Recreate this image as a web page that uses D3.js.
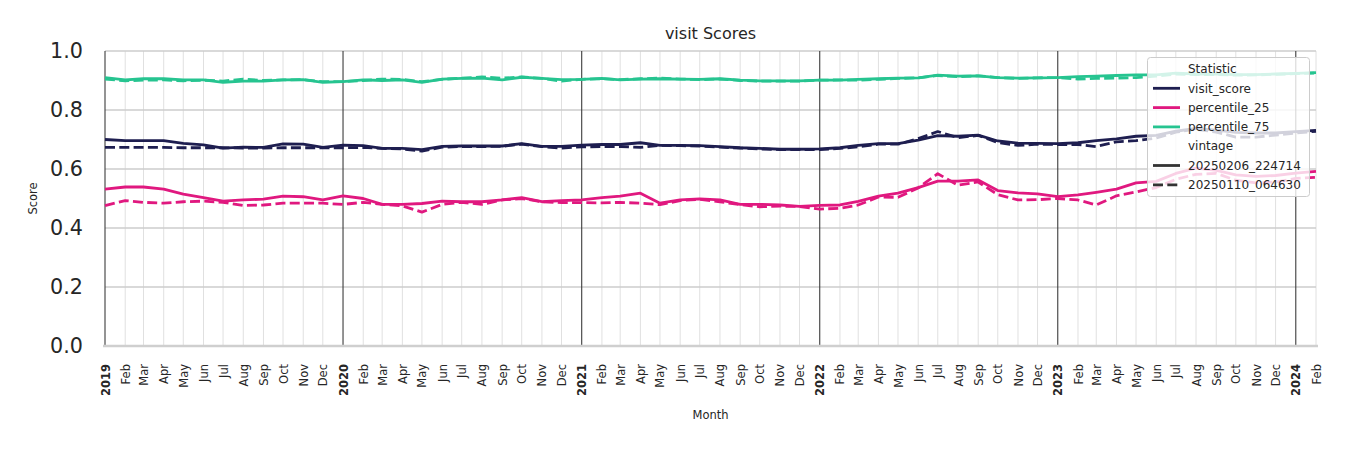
<!DOCTYPE html>
<html><head><meta charset="utf-8">
<script src="https://cdn.jsdelivr.net/npm/d3@7"></script>
<style>body{margin:0;background:#fff;} svg{display:block;font-family:"DejaVu Sans",sans-serif;}</style>
</head><body><svg id="chart" width="1350" height="450"></svg>
<script>
// ---- data ----
const firstMonth = "2019-01-01";
const lastMonth = "2024-02-01";
const statistics = ["visit_score", "percentile_25", "percentile_75"];
const vintages = ["20250206_224714", "20250110_064630"];
const monthTickLabels = ["Jan","Feb","Mar","Apr","May","Jun","Jul","Aug","Sep","Oct","Nov","Dec"];
const yTickValues = [0.0, 0.2, 0.4, 0.6, 0.8, 1.0];

// vintage 20250206_224714 (solid)
const visitScoreNew = [
  0.700,0.696,0.696,0.696,0.687,0.682,0.671,0.674,0.673,0.685,0.684,0.673,
  0.681,0.679,0.670,0.670,0.666,0.677,0.678,0.678,0.678,0.686,0.677,0.677,
  0.681,0.683,0.683,0.689,0.680,0.680,0.679,0.676,0.672,0.670,0.667,0.667,
  0.668,0.672,0.680,0.686,0.686,0.698,0.713,0.711,0.715,0.695,0.688,0.687,
  0.686,0.689,0.696,0.702,0.711,0.714,0.728,0.738,0.732,0.724,0.722,0.722,
  0.727,0.731];
const p25New = [
  0.532,0.539,0.539,0.532,0.515,0.503,0.491,0.495,0.498,0.508,0.506,0.495,
  0.509,0.500,0.480,0.480,0.483,0.491,0.489,0.489,0.495,0.503,0.489,0.493,
  0.495,0.503,0.508,0.518,0.484,0.495,0.499,0.495,0.480,0.480,0.478,0.473,
  0.477,0.478,0.490,0.508,0.518,0.537,0.559,0.559,0.563,0.527,0.519,0.516,
  0.506,0.512,0.521,0.532,0.553,0.558,0.585,0.603,0.595,0.580,0.575,0.578,
  0.586,0.592];
const p75New = [
  0.910,0.902,0.906,0.906,0.902,0.902,0.894,0.898,0.898,0.902,0.903,0.894,
  0.896,0.902,0.900,0.902,0.894,0.905,0.907,0.908,0.902,0.911,0.907,0.903,
  0.904,0.907,0.902,0.905,0.906,0.905,0.904,0.906,0.901,0.899,0.899,0.899,
  0.901,0.901,0.904,0.906,0.908,0.909,0.918,0.915,0.916,0.910,0.908,0.909,
  0.910,0.913,0.915,0.917,0.919,0.919,0.925,0.922,0.922,0.920,0.920,0.922,
  0.924,0.927];

// vintage 20250110_064630 (dashed)
const visitScoreOld = [
  0.673,0.673,0.673,0.673,0.672,0.672,0.672,0.671,0.671,0.672,0.672,0.672,
  0.672,0.673,0.670,0.668,0.661,0.674,0.676,0.676,0.677,0.684,0.676,0.671,
  0.675,0.676,0.676,0.673,0.680,0.679,0.678,0.674,0.671,0.668,0.666,0.666,
  0.666,0.670,0.675,0.684,0.684,0.703,0.727,0.706,0.714,0.690,0.680,0.684,
  0.683,0.683,0.676,0.692,0.696,0.705,0.725,0.735,0.725,0.708,0.708,0.715,
  0.722,0.728];
const p25Old = [
  0.476,0.493,0.487,0.484,0.489,0.491,0.487,0.476,0.478,0.484,0.484,0.484,
  0.480,0.487,0.480,0.475,0.454,0.480,0.487,0.480,0.495,0.500,0.489,0.486,
  0.486,0.485,0.487,0.484,0.479,0.493,0.497,0.489,0.479,0.472,0.474,0.473,
  0.464,0.467,0.478,0.505,0.504,0.536,0.584,0.545,0.556,0.513,0.495,0.496,
  0.500,0.495,0.478,0.509,0.522,0.537,0.565,0.582,0.585,0.562,0.553,0.556,
  0.568,0.572];
const p75Old = [
  0.905,0.899,0.901,0.902,0.899,0.901,0.898,0.905,0.900,0.902,0.903,0.896,
  0.896,0.900,0.905,0.904,0.896,0.904,0.908,0.912,0.908,0.912,0.907,0.898,
  0.904,0.906,0.903,0.906,0.908,0.905,0.903,0.905,0.900,0.898,0.898,0.898,
  0.901,0.902,0.901,0.904,0.907,0.909,0.917,0.913,0.916,0.910,0.907,0.909,
  0.910,0.905,0.907,0.908,0.910,0.915,0.922,0.920,0.920,0.918,0.919,0.921,
  0.923,0.925];

// ---- chart ----
const colors = {visit_score: "#1e1e50", percentile_25: "#e0187f", percentile_75: "#26c490"};
const dashes = {"20250206_224714": null, "20250110_064630": "10,4.3"};
const seriesData = [
  {stat: "visit_score", vintage: vintages[0], values: visitScoreNew},
  {stat: "visit_score", vintage: vintages[1], values: visitScoreOld},
  {stat: "percentile_25", vintage: vintages[0], values: p25New},
  {stat: "percentile_25", vintage: vintages[1], values: p25Old},
  {stat: "percentile_75", vintage: vintages[0], values: p75New},
  {stat: "percentile_75", vintage: vintages[1], values: p75Old}
];

(function draw() {
const parse = d3.utcParse("%Y-%m-%d");
const start = parse(firstMonth), end = parse(lastMonth);
const months = d3.utcMonth.range(start, d3.utcMonth.offset(end, 1));

const svg = d3.select("#chart");
const pL = 105, pR = 1316, pT = 51, pB = 346;
const x = d3.scaleUtc().domain([start, end]).range([pL, pR]);
const y = d3.scaleLinear().domain([0, 1]).range([pB, pT]);

const grid = svg.append("g");
grid.selectAll(".mg").data(months.filter(d => d.getUTCMonth() !== 0)).enter().append("line")
  .attr("x1", d => x(d)).attr("x2", d => x(d)).attr("y1", y(0)).attr("y2", y(1))
  .attr("stroke", "#e0e0e0").attr("stroke-width", 1);
grid.selectAll(".hg").data(yTickValues.filter(v => v > 0)).enter().append("line")
  .attr("x1", pL).attr("x2", pR).attr("y1", d => y(d)).attr("y2", d => y(d))
  .attr("stroke", "#cccccc").attr("stroke-width", 1.5);
grid.selectAll(".yg").data(months.filter(d => d.getUTCMonth() === 0)).enter().append("line")
  .attr("x1", d => x(d)).attr("x2", d => x(d)).attr("y1", y(0)).attr("y2", y(1))
  .attr("stroke", "#3c3c3c").attr("stroke-width", 1.1);
grid.append("line").attr("x1", pL - 2).attr("x2", pR + 2).attr("y1", y(0)).attr("y2", y(0))
  .attr("stroke", "#cfcfcf").attr("stroke-width", 2.6);

const line = d3.line().x((d, i) => x(months[i])).y(d => y(d));
svg.append("g").selectAll("path").data(seriesData).enter().append("path")
  .attr("d", d => line(d.values))
  .attr("fill", "none")
  .attr("stroke", d => colors[d.stat])
  .attr("stroke-width", 2.8)
  .attr("stroke-linejoin", "round")
  .attr("stroke-dasharray", d => dashes[d.vintage]);

const yAxis = svg.append("g").attr("transform", `translate(${pL},0)`)
  .call(d3.axisLeft(y).tickValues(yTickValues).tickFormat(d3.format(".1f")).tickSize(0).tickPadding(22));
yAxis.select(".domain").remove();
yAxis.selectAll("text").attr("font-size", "20.7px").attr("fill", "#262626").attr("font-family", "DejaVu Sans");

const xAxis = svg.append("g").attr("transform", `translate(0,${pB})`)
  .call(d3.axisBottom(x).tickValues(months).tickSize(0)
    .tickFormat(d => d.getUTCMonth() === 0 ? d3.utcFormat("%Y")(d) : monthTickLabels[d.getUTCMonth()]));
xAxis.select(".domain").remove();
xAxis.selectAll("text")
  .attr("transform", "rotate(-90)")
  .attr("x", -18).attr("y", 0).attr("dy", "0.35em")
  .attr("text-anchor", "end")
  .attr("font-size", "11.5px").attr("fill", "#262626").attr("font-family", "DejaVu Sans")
  .attr("font-weight", d => d.getUTCMonth() === 0 ? "bold" : "normal");

svg.append("text").attr("x", (pL + pR) / 2).attr("y", 39).attr("text-anchor", "middle")
  .attr("font-size", "16px").attr("fill", "#262626").text("visit Scores");
svg.append("text").attr("x", (pL + pR) / 2).attr("y", 419).attr("text-anchor", "middle")
  .attr("font-size", "11.5px").attr("fill", "#262626").text("Month");
svg.append("text").attr("transform", `translate(37,${(pT + pB) / 2}) rotate(-90)`).attr("text-anchor", "middle")
  .attr("font-size", "11.5px").attr("fill", "#262626").text("Score");

const lg = svg.append("g");
lg.append("rect").attr("x", 1147.5).attr("y", 57.5).attr("width", 162).attr("height", 139).attr("rx", 3)
  .attr("fill", "white").attr("fill-opacity", 0.8).attr("stroke", "#cccccc").attr("stroke-width", 1);
const legendItems = [
  {label: "Statistic", header: true},
  ...statistics.map(s => ({label: s, color: colors[s], dash: null})),
  {label: "vintage", header: true},
  ...vintages.map(v => ({label: v, color: "#333333", dash: dashes[v]}))
];
legendItems.forEach((it, i) => {
  const cy = 69 + i * 19.3;
  if (!it.header) {
    lg.append("line").attr("x1", 1153).attr("x2", 1180).attr("y1", cy).attr("y2", cy)
      .attr("stroke", it.color).attr("stroke-width", 2.8).attr("stroke-dasharray", it.dash);
  }
  lg.append("text").attr("x", 1188).attr("y", cy).attr("dy", "0.35em")
    .attr("font-size", "12px").attr("fill", "#262626").text(it.label);
});
})();
</script></body></html>
